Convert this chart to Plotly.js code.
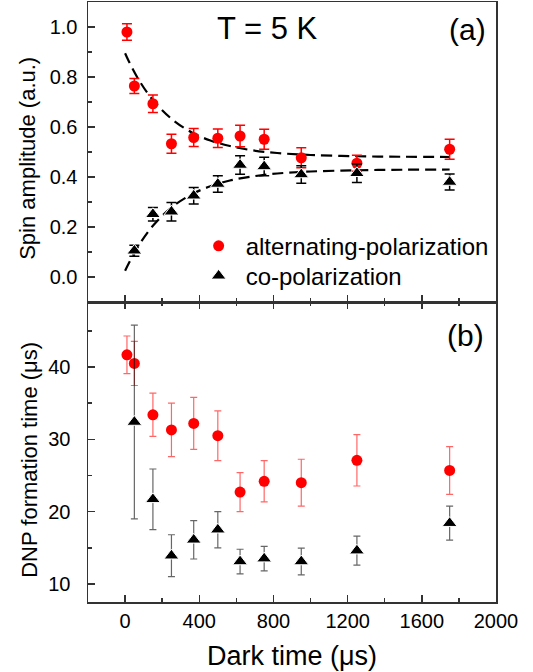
<!DOCTYPE html>
<html>
<head>
<meta charset="utf-8">
<script src="https://cdn.plot.ly/plotly-3.0.1.min.js"></script>
<style>html,body{margin:0;padding:0;background:#fff;}#chart{width:533px;height:672px;}</style>
</head>
<body>
<div id="chart"></div>
<script>
// Dark time (µs)
const xAlt = [10, 50, 150, 250, 370, 500, 620, 750, 950, 1250, 1750];
const xCo = [50, 150, 250, 370, 500, 620, 750, 950, 1250, 1750];
// (a) spin amplitude
const ampAlt = [0.98, 0.764, 0.693, 0.533, 0.558, 0.555, 0.564, 0.551, 0.477, 0.455, 0.511];
const ampAltErr = [0.033, 0.03, 0.035, 0.038, 0.036, 0.037, 0.043, 0.04, 0.04, 0.032, 0.04];
const ampCo = [0.105, 0.251, 0.261, 0.325, 0.372, 0.448, 0.442, 0.41, 0.415, 0.38];
const ampCoErr = [0.022, 0.027, 0.037, 0.033, 0.033, 0.037, 0.037, 0.035, 0.037, 0.032];
// dashed fit curves
const fitX = [0, 20, 75, 150, 250, 360, 460, 565, 675, 820, 1000, 1250, 1500, 1750];
const fitAlt = [0.895, 0.863, 0.787, 0.708, 0.633, 0.578, 0.546, 0.524, 0.508, 0.496, 0.488, 0.483, 0.481, 0.48];
const fitCo = [0.025, 0.055, 0.128, 0.205, 0.278, 0.331, 0.363, 0.386, 0.401, 0.414, 0.422, 0.427, 0.429, 0.43];
// (b) DNP formation time (µs)
const dnpAlt = [41.7, 40.5, 33.4, 31.3, 32.2, 30.5, 22.7, 24.2, 24.0, 27.1, 25.7];
const dnpAltErr = [2.6, 3.05, 3.0, 3.7, 3.6, 3.45, 2.7, 2.85, 3.25, 3.55, 3.3];
const dnpCo = [32.4, 21.7, 13.9, 16.1, 17.5, 13.1, 13.5, 13.1, 14.6, 18.4];
const dnpCoErr = [13.4, 4.2, 2.9, 2.65, 2.5, 1.7, 1.7, 1.85, 2.0, 2.35];

const xTicks = [0, 400, 800, 1200, 1600, 2000];
const FONT = 'Liberation Sans, Arial, sans-serif';
const AX = '#333';

const traces = [
  {x: fitX, y: fitAlt, xaxis: 'x2', yaxis: 'y2', mode: 'lines', showlegend: false, hoverinfo: 'skip',
   line: {color: '#000', width: 2.2, dash: '11px,6px', shape: 'spline'}},
  {x: fitX, y: fitCo, xaxis: 'x2', yaxis: 'y2', mode: 'lines', showlegend: false, hoverinfo: 'skip',
   line: {color: '#000', width: 2.2, dash: '11px,6px', shape: 'spline'}},
  {x: xAlt, y: ampAlt, xaxis: 'x2', yaxis: 'y2', mode: 'markers', name: 'alternating-polarization', legend: 'legend',
   marker: {symbol: 'circle', size: 11, color: '#ff0000'},
   error_y: {type: 'data', array: ampAltErr, visible: true, color: '#ff0000', thickness: 1.5, width: 5}},
  {x: xCo, y: ampCo, xaxis: 'x2', yaxis: 'y2', mode: 'markers', name: 'co-polarization', legend: 'legend2',
   marker: {symbol: 'triangle-up', size: 13, color: '#000', line: {color: '#fff', width: 1}},
   error_y: {type: 'data', array: ampCoErr, visible: true, color: '#000', thickness: 1.5, width: 5}},
  {x: xAlt, y: dnpAlt, xaxis: 'x', yaxis: 'y', mode: 'markers', showlegend: false,
   marker: {symbol: 'circle', size: 11, color: '#ff0000'},
   error_y: {type: 'data', array: dnpAltErr, visible: true, color: 'rgba(255,0,0,0.6)', thickness: 1.2, width: 3.5}},
  {x: xCo, y: dnpCo, xaxis: 'x', yaxis: 'y', mode: 'markers', showlegend: false,
   marker: {symbol: 'triangle-up', size: 13, color: '#000', line: {color: '#fff', width: 1}},
   error_y: {type: 'data', array: dnpCoErr, visible: true, color: 'rgba(0,0,0,0.6)', thickness: 1.2, width: 3.5}}
];

const common = {showline: true, linecolor: AX, linewidth: 1.5, zeroline: false, showgrid: false,
  ticks: 'inside', ticklen: 7, tickwidth: 1.5, tickcolor: AX};

const legendCommon = {xanchor: 'left', yanchor: 'middle', bgcolor: 'rgba(0,0,0,0)',
  font: {family: FONT, size: 24, color: '#000'}, itemwidth: 44};

const layout = {
  width: 533, height: 672,
  margin: {l: 88, r: 37, t: 2, b: 70},
  paper_bgcolor: '#fff', plot_bgcolor: '#fff',
  font: {family: FONT, color: '#000', size: 20},
  showlegend: true,
  legend: Object.assign({x: 0.254, y: 0.593}, legendCommon),
  legend2: Object.assign({x: 0.254, y: 0.543}, legendCommon),
  xaxis: Object.assign({}, common, {anchor: 'y', domain: [0, 1], range: [-200, 2000],
    tickmode: 'array', tickvals: xTicks, ticktext: xTicks.map(String), mirror: 'ticks',
    minor: {ticks: 'inside', ticklen: 4, dtick: 200, tick0: 0, tickcolor: AX, tickwidth: 1.5},
    tickfont: {size: 20, family: FONT},
    title: {text: 'Dark time (μs)', font: {size: 27, family: FONT}, standoff: 15}}),
  xaxis2: Object.assign({}, common, {anchor: 'y2', matches: 'x', range: [-200, 2000], mirror: true,
    tickmode: 'array', tickvals: xTicks, showticklabels: false,
    minor: {ticks: 'inside', ticklen: 4, dtick: 200, tick0: 0, tickcolor: AX, tickwidth: 1.5}}),
  yaxis: Object.assign({}, common, {anchor: 'x', domain: [0, 0.5], range: [7.5, 49], mirror: true,
    tick0: 0, dtick: 10, ticklabelstandoff: 12,
    minor: {ticks: 'inside', ticklen: 4, dtick: 5, tick0: 0, tickcolor: AX, tickwidth: 1.5},
    tickfont: {size: 20, family: FONT}}),
  yaxis2: Object.assign({}, common, {anchor: 'x2', domain: [0.5, 1], range: [-0.1, 1.1], mirror: true,
    tick0: 0, dtick: 0.2, tickformat: '.1f', ticklabelstandoff: 5,
    minor: {ticks: 'inside', ticklen: 4, dtick: 0.1, tick0: 0, tickcolor: AX, tickwidth: 1.5},
    tickfont: {size: 20, family: FONT}}),
  annotations: [
    {text: 'Spin amplitude (a.u.)', xref: 'paper', yref: 'paper', x: -0.149, y: 0.739,
     xanchor: 'center', yanchor: 'middle', textangle: -90, showarrow: false, font: {size: 22, family: FONT}},
    {text: 'DNP formation time (μs)', xref: 'paper', yref: 'paper', x: -0.142, y: 0.237,
     xanchor: 'center', yanchor: 'middle', textangle: -90, showarrow: false, font: {size: 22, family: FONT}},
    {text: 'T = 5 K', xref: 'paper', yref: 'paper', x: 0.441, y: 0.956,
     xanchor: 'center', yanchor: 'middle', showarrow: false, font: {size: 31, family: FONT}},
    {text: '(a)', xref: 'paper', yref: 'paper', x: 0.929, y: 0.955,
     xanchor: 'center', yanchor: 'middle', showarrow: false, font: {size: 30, family: FONT}},
    {text: '(b)', xref: 'paper', yref: 'paper', x: 0.925, y: 0.444,
     xanchor: 'center', yanchor: 'middle', showarrow: false, font: {size: 30, family: FONT}}
  ]
};

Plotly.newPlot('chart', traces, layout, {displayModeBar: false, staticPlot: true});
</script>
</body>
</html>
